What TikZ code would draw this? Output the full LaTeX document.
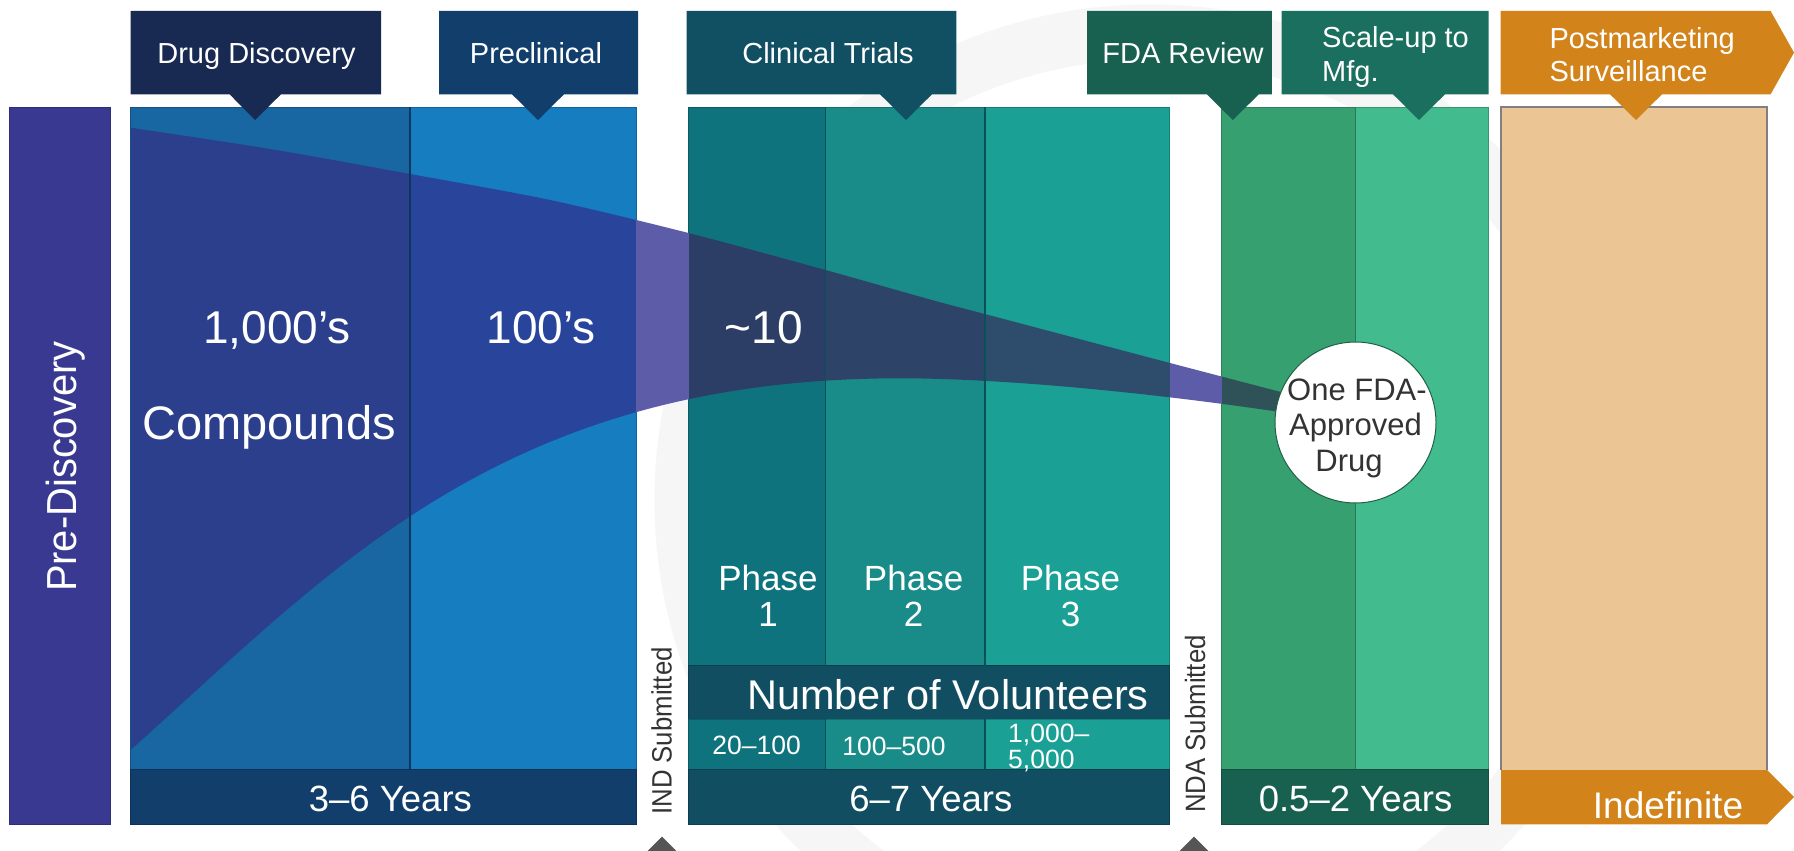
\documentclass[tikz,border=0pt]{standalone}
\usepackage{graphicx}
\usepackage{fontspec}
\setmainfont{Liberation Sans}
\definecolor{preC}{HTML}{393992}
\definecolor{hDD}{HTML}{182A51}
\definecolor{hPC}{HTML}{123E6C}
\definecolor{cDD}{HTML}{1866A2}
\definecolor{cPC}{HTML}{157DC0}
\definecolor{hCT}{HTML}{115063}
\definecolor{novC}{HTML}{114E62}
\definecolor{ph1C}{HTML}{0F737D}
\definecolor{ph2C}{HTML}{198C89}
\definecolor{ph3C}{HTML}{1AA094}
\definecolor{hFDA}{HTML}{186150}
\definecolor{hSU}{HTML}{1A6F5F}
\definecolor{cFDA}{HTML}{36A070}
\definecolor{cSU}{HTML}{42BC8E}
\definecolor{orng}{HTML}{D2831A}
\definecolor{tanC}{HTML}{EBC594}
\definecolor{fDD}{HTML}{2B3F8C}
\definecolor{fPC}{HTML}{28449B}
\definecolor{fGap}{HTML}{5C5CA8}
\definecolor{fP1}{HTML}{2C3E66}
\definecolor{fP2}{HTML}{2D4468}
\definecolor{fP3}{HTML}{2E4C6C}
\definecolor{fFDA}{HTML}{2F5158}
\definecolor{graytxt}{HTML}{333333}
\definecolor{bgring}{HTML}{F6F6F6}
\definecolor{tri}{HTML}{555555}
\tikzset{
  hdrtxt/.style={text=white, font=\fontsize{29}{33}\selectfont, inner sep=0pt, anchor=base},
  hdrleft/.style={hdrtxt, anchor=base west},
  bigtxt/.style={text=white, font=\fontsize{46}{50}\selectfont, inner sep=0pt, anchor=base},
  phtxt/.style={text=white, font=\fontsize{35}{38}\selectfont, inner sep=0pt, anchor=base},
  novtxt/.style={text=white, font=\fontsize{41.5}{44}\selectfont, inner sep=0pt, anchor=base},
  cnttxt/.style={text=white, font=\fontsize{26.5}{28}\selectfont, inner sep=0pt, anchor=base},
  yrtxt/.style={text=white, font=\fontsize{36.5}{40}\selectfont, inner sep=0pt, anchor=base},
  subtxt/.style={text=graytxt, font=\fontsize{28}{30}\selectfont, inner sep=0pt, anchor=base, rotate=90},
  pretxt/.style={text=white, font=\fontsize{42}{46}\selectfont, inner sep=0pt, anchor=base, rotate=90},
  drugtxt/.style={text=graytxt, font=\fontsize{31}{34}\selectfont, inner sep=0pt, anchor=base},
  colbox/.style={fill=#1, draw=#1!80!black, line width=0.8pt},
  sepline/.style={draw=#1, line width=1.3pt},
}
\begin{document}
\begin{tikzpicture}[x=1pt,y=-1pt]
\useasboundingbox (0,0) rectangle (1794,851);
\fill[white] (0,0) rectangle (1794,851);
% faint background ring
\draw[bgring, line width=55pt] (1150,500) circle[radius=468];
% columns
\path[colbox=preC] (9.6,107) rectangle (110,824.3);
\path[colbox=cDD] (130.5,107) rectangle (410,769);
\path[colbox=cPC] (410,107) rectangle (636,769);
\path[colbox=hPC] (130.5,769) rectangle (636,824.3);
\path[colbox=ph1C] (688.5,107) rectangle (825.5,665.7);
\path[colbox=ph2C] (825.5,107) rectangle (985,665.7);
\path[colbox=ph3C] (985,107) rectangle (1169.5,665.7);
\path[colbox=novC] (688.5,665.7) rectangle (1169.5,719.3);
\path[colbox=ph1C] (688.5,719.3) rectangle (825.5,769);
\path[colbox=ph2C] (825.5,719.3) rectangle (985,769);
\path[colbox=ph3C] (985,719.3) rectangle (1169.5,769);
\path[colbox=novC] (688.5,769) rectangle (1169.5,824.3);
\path[colbox=cFDA] (1221.7,107) rectangle (1355.5,769);
\path[colbox=cSU] (1355.5,107) rectangle (1488.7,769);
\path[colbox=hFDA] (1221.7,769) rectangle (1488.7,824.3);
\fill[tanC] (1501,107) rectangle (1767,770);
\draw[black!50, line width=1.2pt] (1501,770) -- (1501,107) -- (1767,107) -- (1767,770);
\fill[orng] (1501,770) -- (1767,770) -- (1794,797) -- (1767,824.3) -- (1501,824.3) -- cycle;
% funnel
\begin{scope}
\clip plot[smooth] coordinates {(130.5,127.7) (270,149) (410,174) (550,200) (688.5,233) (825.5,270) (932,300) (1000,318) (1170,363) (1300,397)}
 -- (1300,415) .. controls (1150,392) and (1000,378.3) .. (900,378.3)
 .. controls (500,378.3) and (330,572) .. (130.5,750) -- cycle;
\fill[fDD] (130.5,100) rectangle (410,770);
\fill[fPC] (410,100) rectangle (636,770);
\fill[fGap] (636,100) rectangle (688.5,770);
\fill[fP1] (688.5,100) rectangle (825.5,770);
\fill[fP2] (825.5,100) rectangle (985,770);
\fill[fP3] (985,100) rectangle (1169.5,770);
\fill[fGap] (1169.5,100) rectangle (1221.7,770);
\fill[fFDA] (1221.7,100) rectangle (1355.5,770);
\end{scope}
% separators
\path[sepline=black!45!cDD] (410,107) -- (410,769);
\path[sepline=black!30!ph1C] (825.5,107) -- (825.5,665.7) (985,107) -- (985,665.7);
\path[sepline=black!30!ph1C] (825.5,719.3) -- (825.5,769) (985,719.3) -- (985,769);
\path[sepline=black!25!cFDA] (1355.5,107) -- (1355.5,769);
% headers with pointers
\fill[hDD] (130.5,11) -- (381,11) -- (381,94.3) -- (281,94.3) -- (255,120) -- (229.6,94.3) -- (130.5,94.3) -- cycle;
\fill[hPC] (439,11) -- (638,11) -- (638,94.3) -- (564,94.3) -- (538,120) -- (512,94.3) -- (439,94.3) -- cycle;
\fill[hCT] (686.6,11) -- (956.4,11) -- (956.4,94.3) -- (932,94.3) -- (906,120) -- (880,94.3) -- (686.6,94.3) -- cycle;
\fill[hFDA] (1087,11) -- (1271.8,11) -- (1271.8,94.3) -- (1258.8,94.3) -- (1232.8,120) -- (1206.8,94.3) -- (1087,94.3) -- cycle;
\fill[hSU] (1281.5,11) -- (1488.7,11) -- (1488.7,94.3) -- (1445,94.3) -- (1419,120) -- (1393,94.3) -- (1281.5,94.3) -- cycle;
\fill[orng] (1500.6,11) -- (1770.6,11) -- (1794,52.6) -- (1770.6,94.3) -- (1662,94.3) -- (1636,120) -- (1610,94.3) -- (1500.6,94.3) -- cycle;
% circle
\node[circle, fill=white, draw=black!40!cFDA, line width=1pt, minimum size=161pt, inner sep=0pt] (drug) at (1355.5,422.5) {};
% bottom markers
\fill[tri] (662,836.7) -- (676.3,851) -- (647.7,851) -- cycle;
\fill[tri] (1194,836.7) -- (1208.3,851) -- (1179.7,851) -- cycle;
% texts
\node[pretxt] (pre) at (76,466.7) {\scalebox{0.95}[1]{Pre-Discovery}};
\node[hdrtxt] (tDD) at (256.5,63.3) {Drug Discovery};
\node[hdrtxt] (tPC) at (536,63.3) {Preclinical};
\node[hdrtxt] (tCT) at (828,63.3) {Clinical Trials};
\node[hdrtxt] (tFDA) at (1183,63.3) {FDA Review};
\node[hdrleft] (tSU1) at (1322,47.7) {Scale-up to};
\node[hdrleft] (tSU2) at (1322,81.7) {Mfg.};
\node[hdrleft] (tPM1) at (1549.3,48.3) {Postmarketing};
\node[hdrleft] (tPM2) at (1549.3,81.7) {Surveillance};
\node[bigtxt] (n1000) at (277,343.3) {1,000’s};
\node[bigtxt, font=\fontsize{47}{50}\selectfont] (comp) at (269,439.3) {Compounds};
\node[bigtxt] (n100) at (541,343.3) {100’s};
\node[bigtxt] (n10) at (764,343.3) {\textasciitilde10};
\node[phtxt] (p1a) at (768,590.7) {Phase};
\node[phtxt] (p1b) at (768,626) {1};
\node[phtxt] (p2a) at (913.6,590.7) {Phase};
\node[phtxt] (p2b) at (913.6,626) {2};
\node[phtxt] (p3a) at (1070.5,590.7) {Phase};
\node[phtxt] (p3b) at (1070.5,626) {3};
\node[novtxt] (nov) at (948,709.3) {Number of Volunteers};
\node[cnttxt] (c1) at (756.7,754) {20–100};
\node[cnttxt] (c2) at (894,755) {100–500};
\node[cnttxt, anchor=base west] (c3a) at (1008,742.7) {1,000–};
\node[cnttxt, anchor=base west] (c3b) at (1008,768.3) {5,000};
\node[yrtxt] (y1) at (390.4,811.7) {3–6 Years};
\node[yrtxt] (y2) at (930.8,811) {6–7 Years};
\node[yrtxt] (y3) at (1355.5,811) {0.5–2 Years};
\node[yrtxt, font=\fontsize{37}{40}\selectfont] (y4) at (1668,818.3) {Indefinite};
\node[subtxt] (ind) at (671.7,731) {\scalebox{0.92}[1]{IND Submitted}};
\node[subtxt] (nda) at (1205,724) {\scalebox{0.92}[1]{NDA Submitted}};
\node[drugtxt] (d1) at (1357,400) {One FDA-};
\node[drugtxt] (d2) at (1355.5,435.7) {Approved};
\node[drugtxt] (d3) at (1349,471.4) {Drug};
\end{tikzpicture}
\end{document}
